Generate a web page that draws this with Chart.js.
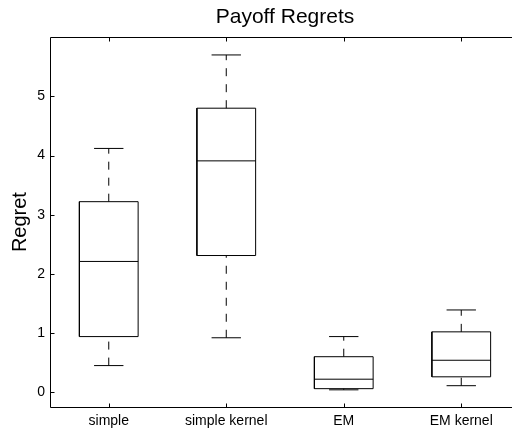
<!DOCTYPE html>
<html>
<head>
<meta charset="utf-8">
<script src="https://cdn.jsdelivr.net/npm/chart.js@4.4.0/dist/chart.umd.min.js"></script>
<style>
  html, body { margin: 0; padding: 0; background: #fff; overflow: hidden; }
  #wrap { width: 512px; height: 431px; overflow: hidden; position: relative; }
  canvas { display: block; }
</style>
</head>
<body>
<div id="wrap"><canvas id="c" width="640" height="431"></canvas></div>
<script>
// ---- data ----
const CATEGORIES   = ['simple', 'simple kernel', 'EM', 'EM kernel'];
const WHISKER_LOW  = [0.45, 0.92, 0.04, 0.11];
const Q1           = [0.94, 2.31, 0.06, 0.26];
const MEDIAN       = [2.21, 3.91, 0.22, 0.54];
const Q3           = [3.22, 4.80, 0.60, 1.02];
const WHISKER_HIGH = [4.12, 5.70, 0.94, 1.39];
const Y_TICKS      = [0, 1, 2, 3, 4, 5];

// ---- style constants ----
const BOX_HALF = 0.25;
const CAP_HALF = 0.125;
const FONT = '"Liberation Sans", Arial, Helvetica, sans-serif';
const LINE = '#000';

function seg(points, dash) {
  return {
    data: points,
    showLine: true,
    borderColor: LINE,
    borderWidth: 1,
    borderDash: dash || [],
    pointRadius: 0,
    pointHoverRadius: 0,
    fill: false,
    tension: 0
  };
}

const datasets = [];
CATEGORIES.forEach((c, i) => {
  const x = i + 1;
  // box
  datasets.push(seg([
    {x: x - BOX_HALF, y: Q1[i]}, {x: x + BOX_HALF, y: Q1[i]},
    {x: x + BOX_HALF, y: Q3[i]}, {x: x - BOX_HALF, y: Q3[i]},
    {x: x - BOX_HALF, y: Q1[i]}
  ]));
  // median
  datasets.push(seg([{x: x - BOX_HALF, y: MEDIAN[i]}, {x: x + BOX_HALF, y: MEDIAN[i]}]));
  // whiskers (dashed)
  datasets.push(seg([{x: x, y: Q3[i]}, {x: x, y: WHISKER_HIGH[i]}], [8, 8]));
  datasets.push(seg([{x: x, y: WHISKER_LOW[i]}, {x: x, y: Q1[i]}], [8, 8]));
  // caps
  datasets.push(seg([{x: x - CAP_HALF, y: WHISKER_HIGH[i]}, {x: x + CAP_HALF, y: WHISKER_HIGH[i]}]));
  datasets.push(seg([{x: x - CAP_HALF, y: WHISKER_LOW[i]}, {x: x + CAP_HALF, y: WHISKER_LOW[i]}]));
});

const frameTicks = {
  id: 'frameTicks',
  afterDatasetsDraw(chart) {
    const {ctx, chartArea: a, scales: {x, y}} = chart;
    const L = Math.round(a.left) + 0.5, R = Math.round(a.right) + 0.5;
    const T = Math.round(a.top) + 0.5, B = Math.round(a.bottom) + 0.5;
    ctx.save();
    ctx.strokeStyle = '#000';
    ctx.lineWidth = 1;
    ctx.setLineDash([]);
    ctx.beginPath();
    // top, left, bottom edges (right edge lies beyond the visible window)
    ctx.moveTo(R, T); ctx.lineTo(L, T); ctx.lineTo(L, B); ctx.lineTo(R, B);
    x.ticks.forEach(t => {
      const px = Math.round(x.getPixelForValue(t.value)) + 0.5;
      ctx.moveTo(px, B); ctx.lineTo(px, B - 4);
      ctx.moveTo(px, T); ctx.lineTo(px, T + 4);
    });
    y.ticks.forEach(t => {
      const py = Math.round(y.getPixelForValue(t.value)) + 0.5;
      ctx.moveTo(L, py); ctx.lineTo(L + 4, py);
    });
    ctx.stroke();
    ctx.restore();
  }
};

new Chart(document.getElementById('c'), {
  type: 'scatter',
  data: { datasets },
  plugins: [frameTicks],
  options: {
    responsive: false,
    animation: false,
    events: [],
    layout: { padding: { left: 0, right: 120, top: 0, bottom: 0 } },
    plugins: {
      legend: { display: false },
      tooltip: { enabled: false },
      title: {
        display: true,
        text: 'Payoff Regrets',
        color: '#000',
        fullSize: false,
        font: { family: FONT, size: 21, weight: 'normal' },
        padding: { top: 5, bottom: 7 }
      }
    },
    scales: {
      x: {
        type: 'linear',
        min: 0.5,
        max: 4.5,
        afterBuildTicks(scale) { scale.ticks = CATEGORIES.map((c, i) => ({ value: i + 1 })); },
        afterFit(scale) { scale.height = 24; },
        grid: { display: false, drawTicks: false },
        border: { display: false },
        ticks: {
          color: '#000',
          font: { family: FONT, size: 14 },
          padding: 6,
          maxRotation: 0,
          autoSkip: false,
          callback: (v) => CATEGORIES[Math.round(v) - 1] || ''
        }
      },
      y: {
        type: 'linear',
        min: -0.25,
        max: 6,
        afterBuildTicks(scale) { scale.ticks = Y_TICKS.map(v => ({ value: v })); },
        afterFit(scale) { scale.width = 50; },
        grid: { display: false, drawTicks: false },
        border: { display: false },
        title: {
          display: true,
          text: 'Regret',
          color: '#000',
          font: { family: FONT, size: 20, weight: 'normal' },
          padding: { top: 8, bottom: 0 }
        },
        ticks: {
          color: '#000',
          font: { family: FONT, size: 14 },
          padding: 5,
          autoSkip: false,
          callback: (v) => String(v)
        }
      }
    }
  }
});
</script>
</body>
</html>
